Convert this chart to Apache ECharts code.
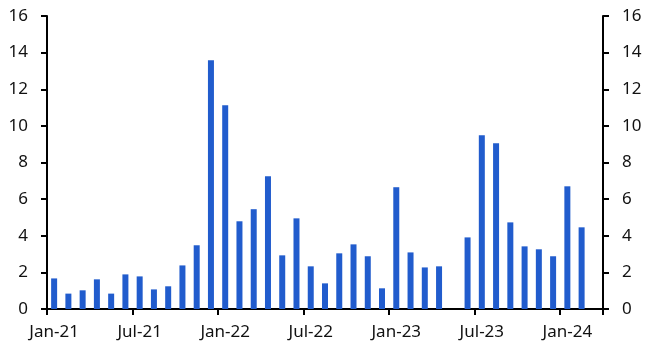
<!DOCTYPE html>
<html>
<head>
<meta charset="utf-8">
<script src="https://cdn.jsdelivr.net/npm/echarts@6/dist/echarts.min.js"></script>
<style>html,body{margin:0;padding:0;background:#fff;}#c{width:650px;height:355px;}</style>
</head>
<body>
<div id="c"></div>
<script>
const categories = [
  'Jan-21','Feb-21','Mar-21','Apr-21','May-21','Jun-21','Jul-21','Aug-21','Sep-21','Oct-21','Nov-21','Dec-21',
  'Jan-22','Feb-22','Mar-22','Apr-22','May-22','Jun-22','Jul-22','Aug-22','Sep-22','Oct-22','Nov-22','Dec-22',
  'Jan-23','Feb-23','Mar-23','Apr-23','May-23','Jun-23','Jul-23','Aug-23','Sep-23','Oct-23','Nov-23','Dec-23',
  'Jan-24','Feb-24','Mar-24'
];
const values = [
  1.67,0.84,1.02,1.62,0.84,1.89,1.78,1.07,1.24,2.38,3.48,13.59,
  11.13,4.79,5.45,7.25,2.93,4.95,2.33,1.40,3.04,3.53,2.88,1.13,
  6.65,3.09,2.27,2.33,null,3.91,9.49,9.05,4.73,3.42,3.26,2.88,
  6.70,4.46,null
];
const yMin = 0, yMax = 16, yStep = 2;

const chart = echarts.init(document.getElementById('c'), null, {renderer:'canvas'});
const font = {fontFamily:'Noto Sans', fontSize:17, color:'#111'};
const yAxisBase = {
  type:'value', min:yMin, max:yMax, interval:yStep,
  splitLine:{show:false},
  axisLine:{show:true, lineStyle:{color:'#000', width:2}},
  axisTick:{show:true, length:6, lineStyle:{color:'#000', width:2}},
  axisLabel:Object.assign({margin:19}, font)
};
chart.setOption({
  animation:false,
  grid:{left:47, right:47, top:16, bottom:46, containLabel:false},
  xAxis:{
    type:'category', data:categories, boundaryGap:true,
    axisLine:{lineStyle:{color:'#000', width:2}},
    axisTick:{show:true, interval:5, length:6, alignWithLabel:false, lineStyle:{color:'#000', width:2}},
    axisLabel:Object.assign({interval:5, margin:15}, font)
  },
  yAxis:[
    Object.assign({position:'left'}, yAxisBase),
    Object.assign({position:'right'}, yAxisBase)
  ],
  series:[{
    type:'bar', data:values, barWidth:6, yAxisIndex:0,
    itemStyle:{color:'#215ccd'}
  }]
});
</script>
</body>
</html>
